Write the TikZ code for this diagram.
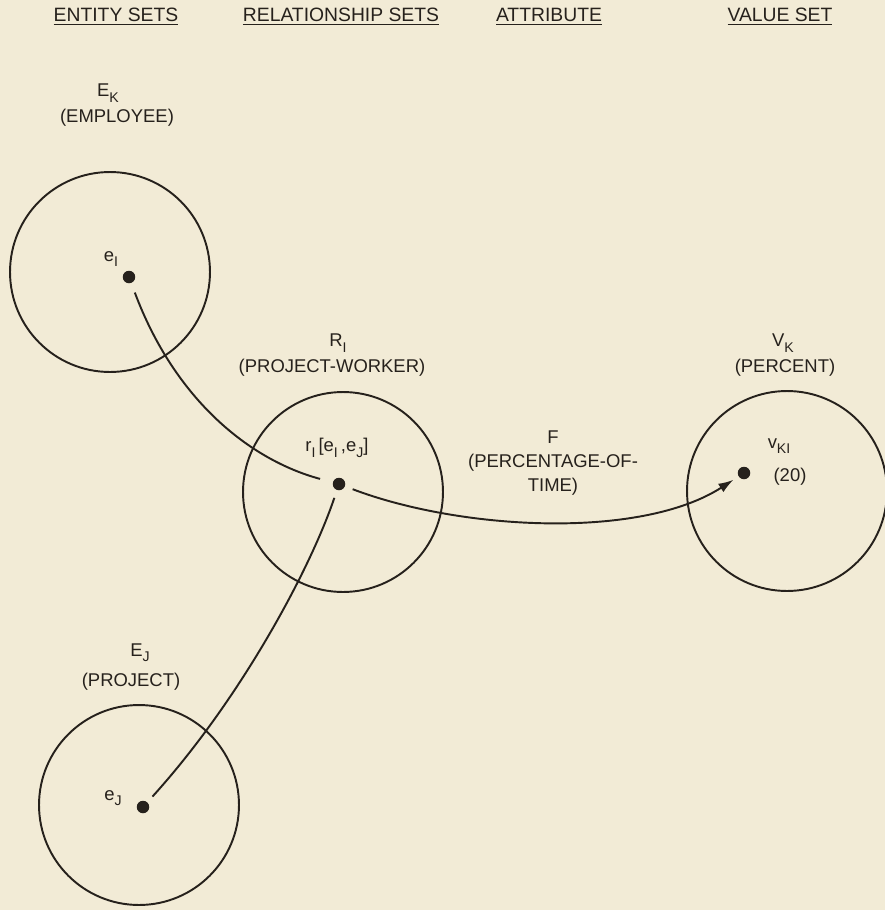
\documentclass[tikz,border=0pt]{standalone}
\usepackage{fontspec}
\setmainfont{Liberation Sans}
\usepackage{xcolor}
\usetikzlibrary{arrows.meta,positioning}

\definecolor{paper}{RGB}{242,235,214}
\definecolor{ink}{RGB}{38,33,28}

% lettering subscript, a bit larger and lower than \textsubscript
\newcommand{\lsub}[1]{\raisebox{-0.55ex}{\fontsize{8}{9}\selectfont #1}}

\tikzset{
	setcircle/.style={draw=ink, circle, line width=1.1pt, minimum size=4cm, inner sep=0pt},
	elem/.style={circle, fill=ink, inner sep=0pt, minimum size=0.25cm},
	lbl/.style={text=ink, font=\fontsize{10.5}{12}\selectfont, inner sep=1pt},
	head/.style={text=ink, font=\fontsize{11}{13}\selectfont, inner sep=1pt},
	link/.style={draw=ink, line width=1.1pt}
}

\begin{document}
\begin{tikzpicture}[x=0.02cm,y=-0.02cm]
	% Paper
	\fill[paper] (0,0) rectangle (885,910);
	\useasboundingbox (0,0) rectangle (885,910);

	% Column headings
	\node[head] (hEntity) at (116,17) {\underline{ENTITY SETS}};
	\node[head] (hRel) at (341,17) {\underline{RELATIONSHIP SETS}};
	\node[head] (hAttr) at (549,17) {\underline{ATTRIBUTE}};
	\node[head] (hValue) at (780,17) {\underline{VALUE SET}};

	% Entity set E K
	\node[lbl] (EKsym) at (108,93) {E\lsub{K}};
	\node[lbl] (EKname) at (117,118) {(EMPLOYEE)};
	\node[setcircle] (EKset) at (110,272) {};
	\node[lbl] (eIlbl) at (111,259) {e\lsub{I}};
	\node[elem] (eI) at (129,277) {};

	% Relationship set R I
	\node[lbl] (RIsym) at (338,343) {R\lsub{I}};
	\node[lbl] (RIname) at (332,368) {(PROJECT-WORKER)};
	\node[setcircle] (RIset) at (343,492) {};
	\node[lbl] (rIlbl) at (337,448) {r\lsub{I}\,[e\lsub{I}\,,e\lsub{J}]};
	\node[elem] (rI) at (339,484) {};

	% Entity set E J
	\node[lbl] (EJsym) at (140,653) {E\lsub{J}};
	\node[lbl] (EJname) at (131,682) {(PROJECT)};
	\node[setcircle] (EJset) at (139,805) {};
	\node[lbl] (eJlbl) at (113,798) {e\lsub{J}};
	\node[elem] (eJ) at (143,807) {};

	% Value set V K
	\node[lbl] (VKsym) at (783,343) {V\lsub{K}};
	\node[lbl] (VKname) at (785,368) {(PERCENT)};
	\node[setcircle] (VKset) at (787,491) {};
	\node[lbl] (vKIlbl) at (779,446) {v\lsub{KI}};
	\node[lbl] (vKIval) at (790,477) {(20)};
	\node[elem] (vKI) at (744,473) {};

	% Attribute F
	\node[lbl, align=center, font=\fontsize{10.5}{13.5}\selectfont] (Fattr) at (553,463) {F\\(PERCENTAGE-OF-\\TIME)};

	% Drawing links
	\draw[link, shorten <=0.2cm, shorten >=0.26cm] (eI) .. controls (175,400) and (250,460) .. (rI);
	\draw[link, shorten <=0.16cm, shorten >=0.15cm] (rI) .. controls (310,570) and (240,700) .. (eJ);
	\draw[link, -{Latex[length=3mm,width=2mm]}, shorten <=0.16cm, shorten >=0.12cm] (rI) .. controls (460,530) and (640,540) .. (vKI);
\end{tikzpicture}
\end{document}
